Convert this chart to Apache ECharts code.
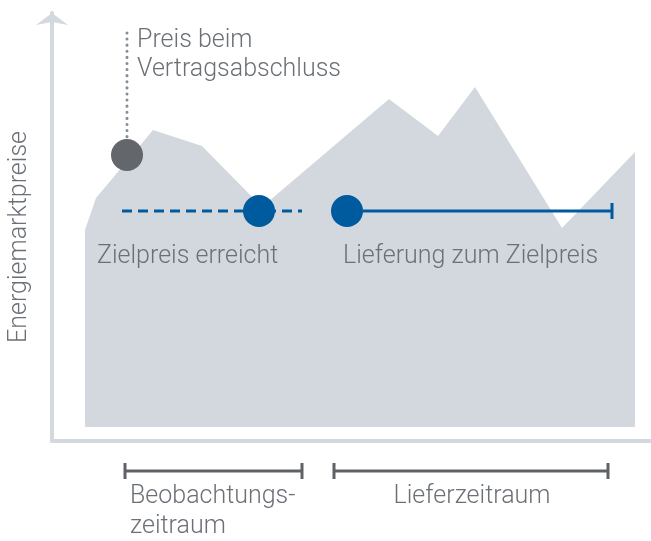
<!DOCTYPE html>
<html>
<head>
<meta charset="utf-8">
<style>
  html, body { margin: 0; padding: 0; background: #fff; }
  #chart { width: 651px; height: 541px; }
</style>
<script src="https://cdn.jsdelivr.net/npm/echarts@6/dist/echarts.min.js"></script>
</head>
<body>
<div id="chart"></div>
<script>
// market price curve (x = time, y = price)
const priceCurve = [
  [33, 211], [44, 243], [101, 311], [150, 295], [210, 234],
  [337, 342], [386, 305], [423, 354], [510, 213], [583, 289]
];
const priceBase = 14;

const contractPoint = [[75, 286]];
const contractGuide = [[75, 286], [75, 411]];
const targetPrice = 230;
const targetHit = [[207, targetPrice], [295, targetPrice]];
const watchLine = [[70, targetPrice], [250, targetPrice]];
const deliveryLine = [[295, targetPrice], [560, targetPrice]];

// periods below the time axis: [start, end]
const periods = [[73, 250], [282, 556]];
const periodY = -30;

const font = '300 25px Roboto';
const textColor = '#6b7076';

const chart = echarts.init(document.getElementById('chart'));

const option = {
  animation: false,
  grid: { left: 52, right: 0, top: 13, bottom: 100, containLabel: false, outerBoundsMode: 'none' },
  xAxis: {
    type: 'value', min: 0, max: 599,
    axisLine: { show: true, lineStyle: { color: '#d3d9de', width: 4 } },
    axisTick: { show: false }, axisLabel: { show: false }, splitLine: { show: false }
  },
  yAxis: {
    type: 'value', min: 0, max: 428,
    axisLine: {
      show: true, symbol: ['none', 'arrow'], symbolSize: [24, 12],
      lineStyle: { color: '#d3d9de', width: 4 }
    },
    axisTick: { show: false }, axisLabel: { show: false }, splitLine: { show: false }
  },
  series: [
    {
      type: 'line', data: priceCurve, symbol: 'none', silent: true, z: 1,
      lineStyle: { width: 0 },
      areaStyle: { color: '#d2d8de', opacity: 1, origin: priceBase }
    },
    {
      type: 'line', data: contractGuide, symbol: 'none', z: 5,
      lineStyle: { color: '#848d96', width: 3, type: [0.1, 6], cap: 'round' }
    },
    {
      type: 'line', data: watchLine, symbol: 'none', z: 5,
      lineStyle: { color: '#005a9e', width: 3, type: [10, 6] }
    },
    {
      type: 'line', data: deliveryLine, symbol: 'none', z: 5,
      lineStyle: { color: '#005a9e', width: 3 }
    },
    {
      type: 'custom', clip: false, z: 5,
      data: [[deliveryLine[1][0], targetPrice]],
      renderItem: function (params, api) {
        const p = api.coord([api.value(0), api.value(1)]);
        return { type: 'line', shape: { x1: p[0], y1: p[1] - 8, x2: p[0], y2: p[1] + 8 },
          style: { stroke: '#005a9e', lineWidth: 3 } };
      }
    },
    {
      type: 'scatter', data: contractPoint, symbolSize: 32, z: 6,
      itemStyle: { color: '#63676b', opacity: 1 }
    },
    {
      type: 'scatter', data: targetHit, symbolSize: 32, z: 6,
      itemStyle: { color: '#005a9e', opacity: 1 }
    },
    {
      type: 'custom', clip: false, z: 5,
      data: periods.map(p => [p[0], p[1], periodY]),
      renderItem: function (params, api) {
        const a = api.coord([api.value(0), api.value(2)]);
        const b = api.coord([api.value(1), api.value(2)]);
        const st = { stroke: '#5e6267', lineWidth: 3 };
        return {
          type: 'group',
          children: [
            { type: 'line', shape: { x1: a[0], y1: a[1], x2: b[0], y2: b[1] }, style: st },
            { type: 'line', shape: { x1: a[0], y1: a[1] - 8, x2: a[0], y2: a[1] + 8 }, style: st },
            { type: 'line', shape: { x1: b[0], y1: b[1] - 8, x2: b[0], y2: b[1] + 8 }, style: st }
          ]
        };
      }
    }
  ],
  graphic: [
    { type: 'text', z: 100, x: 20, y: 237, rotation: Math.PI / 2,
      style: { x: 0, y: 0, text: 'Energiemarktpreise', font: font, fill: textColor, verticalAlign: 'middle', align: 'center' } },
    { type: 'text', z: 100, style: { x: 137, y: 41, text: 'Preis beim', font: font, fill: textColor, verticalAlign: 'middle' } },
    { type: 'text', z: 100, style: { x: 137, y: 70, text: 'Vertragsabschluss', font: font, fill: textColor, verticalAlign: 'middle' } },
    { type: 'text', z: 100, style: { x: 97, y: 257, text: 'Zielpreis erreicht', font: font, fill: textColor, verticalAlign: 'middle' } },
    { type: 'text', z: 100, style: { x: 343, y: 257, text: 'Lieferung zum Zielpreis', font: font, fill: textColor, verticalAlign: 'middle' } },
    { type: 'text', z: 100, style: { x: 130, y: 497, text: 'Beobachtungs-', font: font, fill: textColor, verticalAlign: 'middle' } },
    { type: 'text', z: 100, style: { x: 130, y: 527, text: 'zeitraum', font: font, fill: textColor, verticalAlign: 'middle' } },
    { type: 'text', z: 100, style: { x: 472, y: 497, text: 'Lieferzeitraum', font: font, fill: textColor, verticalAlign: 'middle', align: 'center' } }
  ]
};

chart.setOption(option);
</script>
</body>
</html>
